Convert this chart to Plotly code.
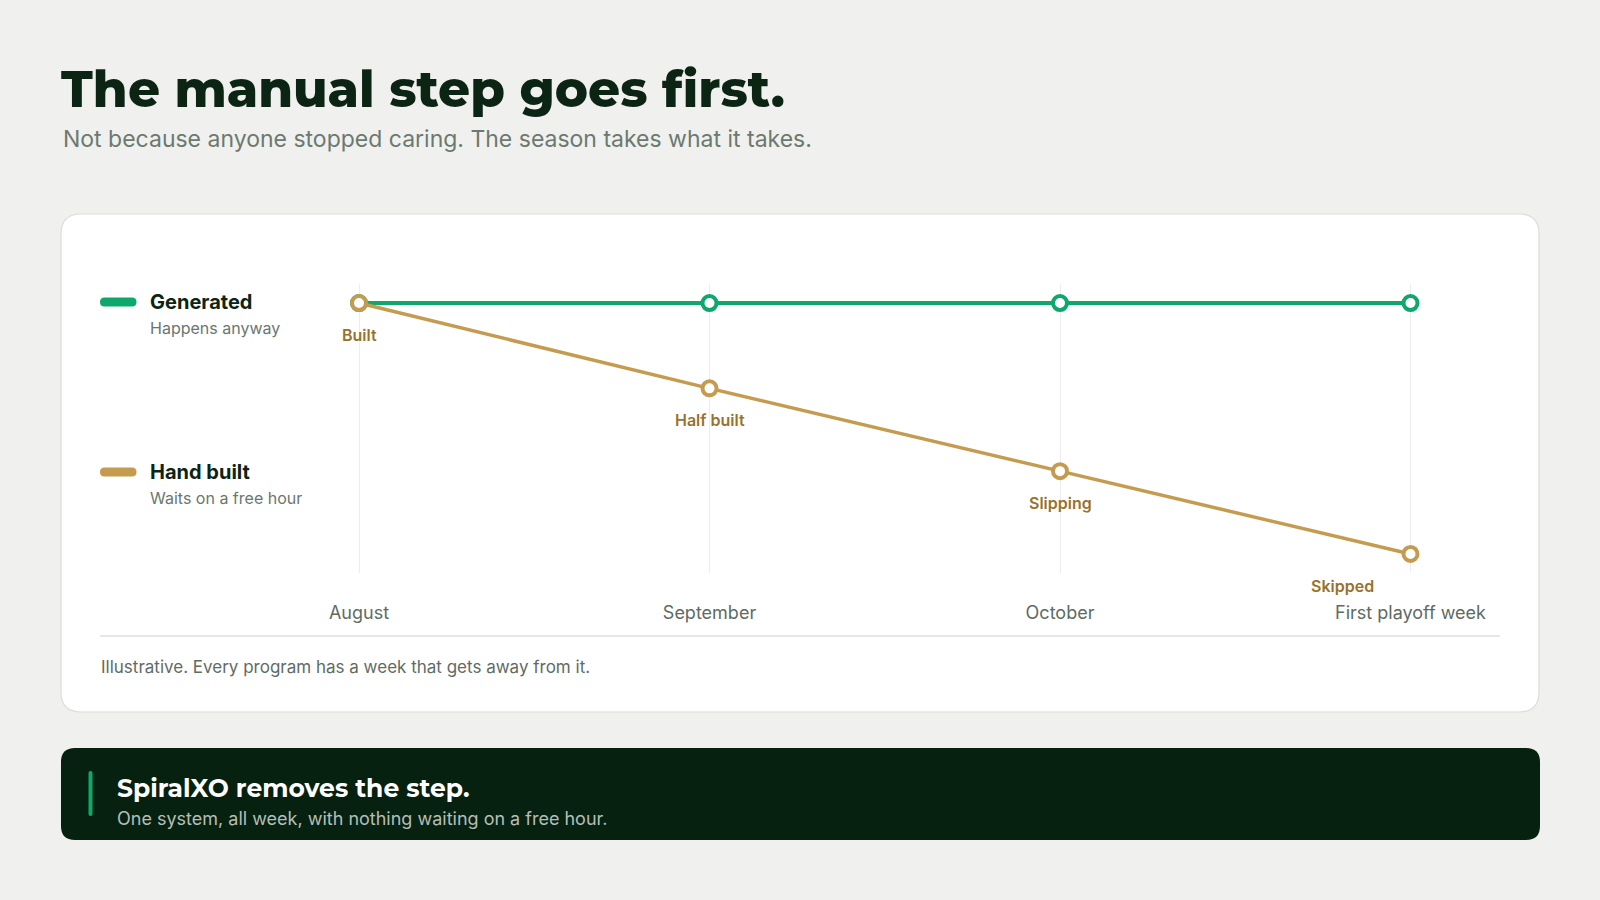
import plotly.graph_objects as go

# ---------------- data ----------------
periods = ["August", "September", "October", "First playoff week"]
generated = [100, 100, 100, 100]
hand_built = [100, 66, 33, 0]
hand_labels = ["Built", "Half built", "Slipping", "Skipped"]
series_names = ["Generated", "Hand built"]
series_notes = ["Happens anyway", "Waits on a free hour"]

title = "The manual step goes first."
subtitle = "Not because anyone stopped caring. The season takes what it takes."
footnote = "Illustrative. Every program has a week that gets away from it."
banner_title = "SpiralXO removes the step."
banner_text = "One system, all week, with nothing waiting on a free hour."

# ---------------- styles ----------------
W, H = 1600, 900
BG = "#f0f1ee"
GREEN = "#0ea86c"
GOLD = "#c49b4f"
GOLD_TXT = "#98722c"
INK = "#0c2414"
MUTED = "#66736b"
BANNER = "#072111"
FONT = "Inter, 'Open Sans', sans-serif"
HEAD = "Montserrat, Inter, sans-serif"


def px(x):
    return x / W


def py(y):
    return 1 - y / H


def rrect(x0, y0, x1, y1, r):
    pts = [
        ("M", [(x0 + r, y0)]), ("L", [(x1 - r, y0)]), ("Q", [(x1, y0), (x1, y0 + r)]),
        ("L", [(x1, y1 - r)]), ("Q", [(x1, y1), (x1 - r, y1)]), ("L", [(x0 + r, y1)]),
        ("Q", [(x0, y1), (x0, y1 - r)]), ("L", [(x0, y0 + r)]), ("Q", [(x0, y0), (x0 + r, y0)]),
    ]
    s = ""
    for cmd, ps in pts:
        s += cmd + " " + " ".join(f"{px(a):.5f},{py(b):.5f}" for a, b in ps) + " "
    return s + "Z"


fig = go.Figure()

fig.add_trace(go.Scatter(
    x=list(range(len(periods))), y=generated, mode="lines+markers", name=series_names[0],
    line=dict(color=GREEN, width=4),
    marker=dict(size=14, color="white", line=dict(color=GREEN, width=4)),
    hoverinfo="skip",
))
fig.add_trace(go.Scatter(
    x=list(range(len(periods))), y=hand_built, mode="lines+markers", name=series_names[1],
    line=dict(color=GOLD, width=3.5),
    marker=dict(size=14, color="white", line=dict(color=GOLD, width=4)),
    hoverinfo="skip",
))

# plot geometry (pixels)
x_left, x_right = 253.85, 1515.65
y_top, y_bot = 284, 573

shapes = [
    # card
    dict(type="path", path=rrect(61, 214, 1539, 712, 20), xref="paper", yref="paper",
         fillcolor="white", line=dict(color="#dadedb", width=1.2), layer="below"),
    # divider
    dict(type="line", x0=px(100), x1=px(1500), y0=py(636), y1=py(636), xref="paper", yref="paper",
         line=dict(color="#dcdfdc", width=1.5), layer="below"),
    # banner
    dict(type="path", path=rrect(61, 748, 1540, 840, 14), xref="paper", yref="paper",
         fillcolor=BANNER, line=dict(width=0), layer="below"),
    dict(type="path", path=rrect(88.5, 771, 92.5, 816, 2), xref="paper", yref="paper",
         fillcolor=GREEN, line=dict(width=0), layer="below"),
]

annotations = [
    dict(text=title, x=px(59), y=py(90), xref="paper", yref="paper", xanchor="left", yanchor="middle",
         showarrow=False, font=dict(family=HEAD, size=50, color=INK, weight=800)),
    dict(text=subtitle, x=px(61), y=py(139), xref="paper", yref="paper", xanchor="left", yanchor="middle",
         showarrow=False, font=dict(family=FONT, size=23, color="#6c7970")),
    dict(text=footnote, x=px(99), y=py(667), xref="paper", yref="paper", xanchor="left", yanchor="middle",
         showarrow=False, font=dict(family=FONT, size=17, color="#5f6b64")),
    dict(text=banner_title, x=px(115), y=py(788), xref="paper", yref="paper", xanchor="left", yanchor="middle",
         showarrow=False, font=dict(family=HEAD, size=25, color="white", weight=700)),
    dict(text=banner_text, x=px(115), y=py(818), xref="paper", yref="paper", xanchor="left", yanchor="middle",
         showarrow=False, font=dict(family=FONT, size=18, color="#b3bfb7")),
]

# legend (custom)
legend_rows = [(302, GREEN), (472, GOLD)]
for (yc, col), name, note in zip(legend_rows, series_names, series_notes):
    shapes.append(dict(type="path", path=rrect(100, yc - 4.5, 136.5, yc + 4.5, 4.5), xref="paper", yref="paper",
                       fillcolor=col, line=dict(width=0)))
    annotations.append(dict(text=name, x=px(148), y=py(yc), xref="paper", yref="paper", xanchor="left",
                            yanchor="middle", showarrow=False,
                            font=dict(family=FONT, size=20, color=INK, weight=700)))
    annotations.append(dict(text=note, x=px(148), y=py(yc + 26), xref="paper", yref="paper", xanchor="left",
                            yanchor="middle", showarrow=False,
                            font=dict(family=FONT, size=16, color="#6b766f")))

# point labels for hand built
n = len(hand_labels)
for i, lab in enumerate(hand_labels):
    last = i == n - 1
    annotations.append(dict(text=lab, x=i, y=hand_built[i], xref="x", yref="y",
                            xanchor="right" if last else "center", yanchor="middle",
                            xshift=-35 if last else 0, yshift=-32, showarrow=False,
                            font=dict(family=FONT, size=16, color=GOLD_TXT, weight=600)))

fig.update_layout(
    width=W, height=H, margin=dict(l=0, r=0, t=0, b=0),
    paper_bgcolor=BG, plot_bgcolor="rgba(0,0,0,0)",
    showlegend=False, shapes=shapes, annotations=annotations,
    font=dict(family=FONT),
    xaxis=dict(domain=[px(x_left), px(x_right)], range=[-0.3, 3.3],
               tickvals=list(range(len(periods))), ticktext=periods,
               showgrid=True, gridcolor="#eceeec", gridwidth=1, zeroline=False, showline=False,
               ticks="", ticklabelstandoff=27, tickfont=dict(family=FONT, size=18, color="#5e6b63"),
               fixedrange=True),
    yaxis=dict(domain=[py(y_bot), py(y_top)], range=[-7.6, 107.6], visible=False, fixedrange=True),
)

fig.write_html("out.html", config=dict(displayModeBar=False),
               post_script="document.body.style.margin='0';document.body.style.overflow='hidden';")
